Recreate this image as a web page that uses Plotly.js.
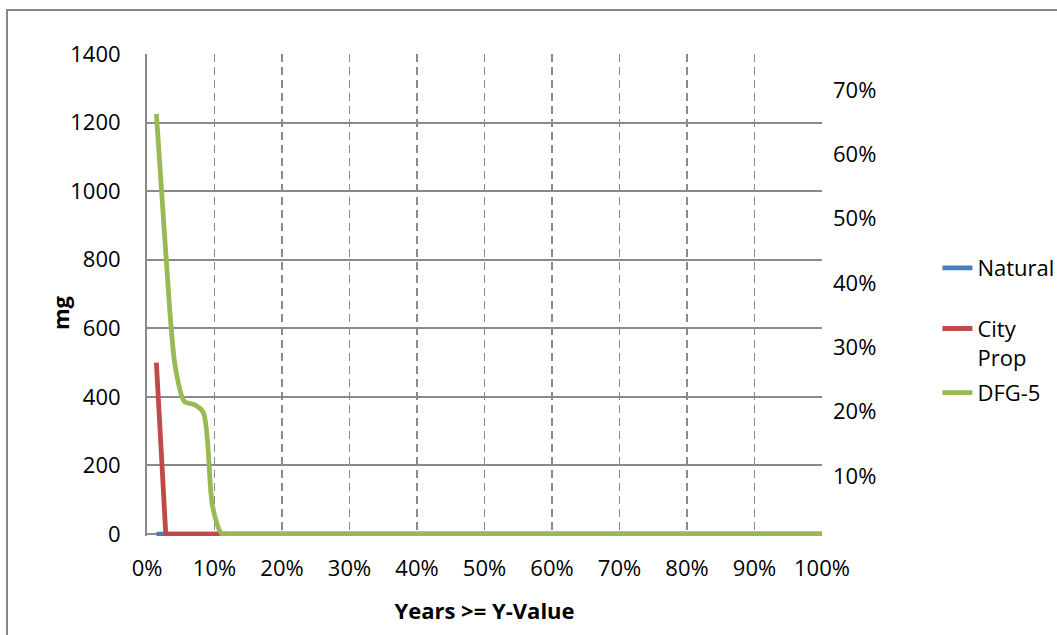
<!DOCTYPE html>
<html>
<head>
<meta charset="utf-8">
<script src="https://cdn.plot.ly/plotly-3.0.1.min.js"></script>
<style>
  html, body { margin: 0; padding: 0; background: #ffffff; }
  #chart { width: 1057px; height: 635px; }
</style>
</head>
<body>
<div id="chart"></div>
<script>
// Exceedance fraction of years (rank / 72)
const exceedance = [
  0.0139, 0.0278, 0.0417, 0.0556, 0.0694, 0.0833, 0.0972, 0.1111, 0.1250, 0.1389, 0.1528, 0.1667,
  0.1806, 0.1944, 0.2083, 0.2222, 0.2361, 0.2500, 0.2639, 0.2778, 0.2917, 0.3056, 0.3194, 0.3333,
  0.3472, 0.3611, 0.3750, 0.3889, 0.4028, 0.4167, 0.4306, 0.4444, 0.4583, 0.4722, 0.4861, 0.5000,
  0.5139, 0.5278, 0.5417, 0.5556, 0.5694, 0.5833, 0.5972, 0.6111, 0.6250, 0.6389, 0.6528, 0.6667,
  0.6806, 0.6944, 0.7083, 0.7222, 0.7361, 0.7500, 0.7639, 0.7778, 0.7917, 0.8056, 0.8194, 0.8333,
  0.8472, 0.8611, 0.8750, 0.8889, 0.9028, 0.9167, 0.9306, 0.9444, 0.9583, 0.9722, 0.9861, 1.0000
];

// mg per year, sorted from largest to smallest
const natural = [
  0, 0, 0, 0, 0, 0, 0, 0, 0, 0, 0, 0,
  0, 0, 0, 0, 0, 0, 0, 0, 0, 0, 0, 0,
  0, 0, 0, 0, 0, 0, 0, 0, 0, 0, 0, 0,
  0, 0, 0, 0, 0, 0, 0, 0, 0, 0, 0, 0,
  0, 0, 0, 0, 0, 0, 0, 0, 0, 0, 0, 0,
  0, 0, 0, 0, 0, 0, 0, 0, 0, 0, 0, 0
];
const cityProp = [
  500, 0, 0, 0, 0, 0, 0, 0, 0, 0, 0, 0,
  0, 0, 0, 0, 0, 0, 0, 0, 0, 0, 0, 0,
  0, 0, 0, 0, 0, 0, 0, 0, 0, 0, 0, 0,
  0, 0, 0, 0, 0, 0, 0, 0, 0, 0, 0, 0,
  0, 0, 0, 0, 0, 0, 0, 0, 0, 0, 0, 0,
  0, 0, 0, 0, 0, 0, 0, 0, 0, 0, 0, 0
];
const dfg5 = [
  1225, 820, 490, 386, 378, 355, 80, 0, 0, 0, 0, 0,
  0, 0, 0, 0, 0, 0, 0, 0, 0, 0, 0, 0,
  0, 0, 0, 0, 0, 0, 0, 0, 0, 0, 0, 0,
  0, 0, 0, 0, 0, 0, 0, 0, 0, 0, 0, 0,
  0, 0, 0, 0, 0, 0, 0, 0, 0, 0, 0, 0,
  0, 0, 0, 0, 0, 0, 0, 0, 0, 0, 0, 0
];

const seriesNames = ['Natural', 'City<br>Prop', 'DFG-5'];
const seriesColors = ['#4a7ebb', '#be4b48', '#98b954'];

const FONT = '"Open Sans", "Noto Sans", sans-serif';
const GRID = '#8a8a8a';

const traces = [
  {
    x: exceedance, y: natural, name: seriesNames[0], type: 'scatter', mode: 'lines',
    line: { color: seriesColors[0], width: 4.8 }, legend: 'legend', hoverinfo: 'skip'
  },
  {
    x: exceedance, y: cityProp, name: seriesNames[1], type: 'scatter', mode: 'lines',
    line: { color: seriesColors[1], width: 4.8 }, legend: 'legend2', hoverinfo: 'skip'
  },
  {
    x: exceedance, y: dfg5, name: seriesNames[2], type: 'scatter', mode: 'lines',
    line: { color: seriesColors[2], width: 4.8, shape: 'spline', smoothing: 0.8 },
    legend: 'legend3', hoverinfo: 'skip'
  },
  // empty series that carries the secondary percentage axis
  {
    x: [null], y: [null], yaxis: 'y2', type: 'scatter', mode: 'lines',
    showlegend: false, hoverinfo: 'skip', line: { width: 0 }
  }
];

const legendBase = {
  xanchor: 'left', yanchor: 'middle', bgcolor: 'rgba(0,0,0,0)',
  font: { family: FONT, size: 22, color: '#000000' }, valign: 'top'
};

const layout = {
  width: 1057, height: 635,
  margin: { l: 147, r: 235, t: 54, b: 99, autoexpand: false },
  paper_bgcolor: '#ffffff', plot_bgcolor: '#ffffff',
  font: { family: FONT, size: 22, color: '#000000' },
  showlegend: true,
  legend:  Object.assign({ x: 1.171, y: 0.556 }, legendBase),
  legend2: Object.assign({ x: 1.171, y: 0.40 }, legendBase),
  legend3: Object.assign({ x: 1.171, y: 0.297 }, legendBase),
  xaxis: {
    range: [0, 1], dtick: 0.1, tick0: 0, tickformat: '.0%',
    showgrid: true, gridcolor: GRID, gridwidth: 1.5, griddash: '8px,5px',
    showline: false, zeroline: false, ticks: '', ticklabelstandoff: 17,
    tickfont: { family: FONT, size: 22 },
    title: { text: '<b>Years >= Y-Value</b>', font: { family: FONT, size: 22 }, standoff: 22 }
  },
  yaxis: {
    range: [-5.7, 1400], dtick: 200, tick0: 0,
    showgrid: true, gridcolor: GRID, gridwidth: 2,
    zeroline: true, zerolinecolor: GRID, zerolinewidth: 2,
    showline: true, linecolor: GRID, linewidth: 2, ticks: '', ticklabelstandoff: 20,
    tickfont: { family: FONT, size: 22 }
  },
  yaxis2: {
    overlaying: 'y', side: 'right', range: [0.00673, 0.756], dtick: 0.1, tick0: 0,
    tickformat: '.0%', showgrid: false, zeroline: false, showline: false, ticks: '',
    ticklabelstandoff: 10, tickfont: { family: FONT, size: 22 }
  },
  annotations: [
    {
      text: '<b>mg</b>', textangle: -90, xref: 'paper', yref: 'paper',
      x: (60 - 147) / 675, y: (536 - 313) / 482, xanchor: 'center', yanchor: 'middle',
      showarrow: false, font: { family: FONT, size: 22, color: '#000000' }
    }
  ],
  shapes: [
    {
      type: 'rect', xref: 'paper', yref: 'paper', layer: 'below',
      x0: (7 - 147) / 675, x1: (1064 - 147) / 675,
      y0: (536 - 642) / 482, y1: (536 - 10) / 482,
      line: { color: '#868686', width: 2 }, fillcolor: 'rgba(0,0,0,0)'
    }
  ]
};

Plotly.newPlot('chart', traces, layout, { staticPlot: true, displayModeBar: false });
</script>
</body>
</html>
